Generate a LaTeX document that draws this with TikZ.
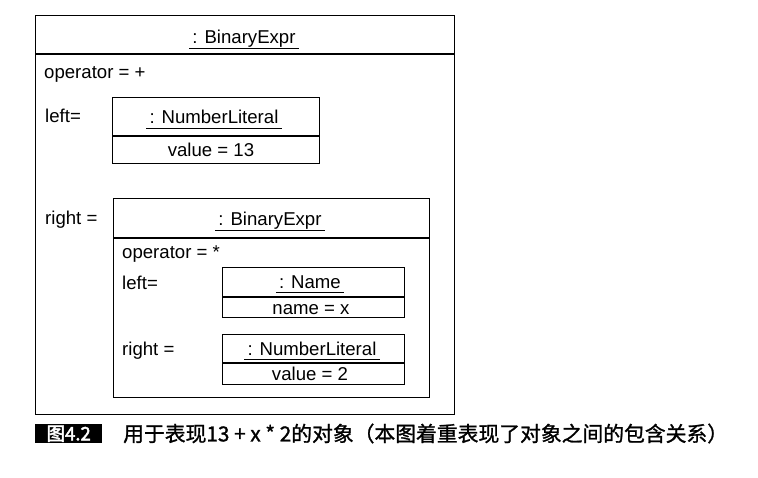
\documentclass[tikz,border=0pt]{standalone}
\usepackage{fontspec}
\setmainfont{Liberation Sans}
\newfontfamily\cjk[FakeBold=1.2]{Noto Sans CJK SC}
\newfontfamily\cjkb[FakeBold=2.5]{Noto Sans CJK SC}
\newcommand{\dfont}{\fontsize{18.6}{20}\selectfont}
\newcommand{\cfont}{\cjk\fontsize{20.8}{23}\selectfont}
\tikzset{
  box/.style={draw, line width=1.2pt, inner sep=0pt, anchor=north west},
  sepline/.style={line width=1.2pt},
  ttl/.style={font=\dfont, inner xsep=3pt, inner ysep=0pt, text depth=5.5pt, anchor=base},
  ul/.style={line width=1.1pt},
  lbl/.style={font=\dfont, inner sep=0pt, anchor=base west},
  val/.style={font=\dfont, inner sep=0pt, anchor=base},
}
\begin{document}
\begin{tikzpicture}[x=1pt,y=-1pt]
\useasboundingbox (0,0) rectangle (758,477);
% outer object
\node[box, minimum width=419, minimum height=399] (outer) at (35,15) {};
\path (outer.north west) ++(0,39) coordinate (outerS);
\draw[sepline] (outerS) -- (outerS -| outer.east);
\node[ttl] (outerT) at (244,43) {: BinaryExpr};
\draw[ul] (outerT.south west) -- (outerT.south east);
\node[lbl] (op1) at (44,78) {operator = +};
\node[lbl] (left1) at (45,122) {left=};
\node[lbl] (right1) at (45,224) {right =};
% number literal 13
\node[box, minimum width=207, minimum height=66] (nl1) at (112,97) {};
\path (nl1.north west) ++(0,39) coordinate (nl1S);
\draw[sepline] (nl1S) -- (nl1S -| nl1.east);
\node[ttl] (nl1T) at (214,123) {: NumberLiteral};
\draw[ul] (nl1T.south west) -- (nl1T.south east);
\node[val] (nl1V) at (211,156) {value = 13};
% inner binary expr
\node[box, minimum width=316, minimum height=199] (inner) at (113,198) {};
\path (inner.north west) ++(0,40) coordinate (innerS);
\draw[sepline] (innerS) -- (innerS -| inner.east);
\node[ttl] (innerT) at (270,225) {: BinaryExpr};
\draw[ul] (innerT.south west) -- (innerT.south east);
\node[lbl] (op2) at (122,258) {operator = *};
\node[lbl] (left2) at (122,289) {left=};
\node[lbl] (right2) at (122,355) {right =};
% name
\node[box, minimum width=182, minimum height=50] (nm) at (222,267) {};
\path (nm.north west) ++(0,30) coordinate (nmS);
\draw[sepline] (nmS) -- (nmS -| nm.east);
\node[ttl, text depth=4.5pt] (nmT) at (310,288) {: Name};
\draw[ul] (nmT.south west) -- (nmT.south east);
\node[val] (nmV) at (311,314) {name = x};
% number literal 2
\node[box, minimum width=182, minimum height=50] (nl2) at (222,334) {};
\path (nl2.north west) ++(0,29) coordinate (nl2S);
\draw[sepline] (nl2S) -- (nl2S -| nl2.east);
\node[ttl, text depth=4.5pt] (nl2T) at (312,355) {: NumberLiteral};
\draw[ul] (nl2T.south west) -- (nl2T.south east);
\node[val] (nl2V) at (310,380) {value = 2};
% caption
\node[fill=black, text=white, font=\cjkb\fontsize{18.5}{19}\selectfont, inner sep=0pt,
      minimum width=67, minimum height=19, anchor=north west] (fig) at (35,424) {图4.2};
\node[font=\cfont, inner sep=0pt, anchor=west] (cap) at (123,433.5)
  {用于表现13 + x * 2的对象（本图着重表现了对象之间的包含关系）};
\end{tikzpicture}
\end{document}
